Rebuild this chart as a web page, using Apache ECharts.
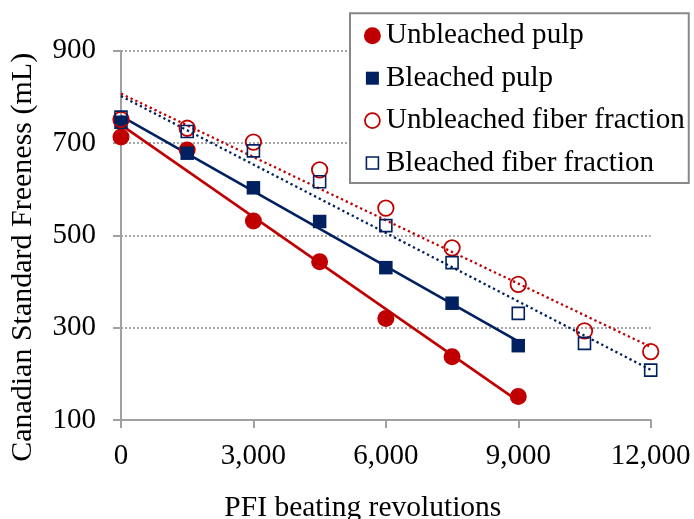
<!DOCTYPE html>
<html>
<head>
<meta charset="utf-8">
<script src="https://cdn.jsdelivr.net/npm/echarts@6/dist/echarts.min.js"></script>
<style>
html,body{margin:0;padding:0;background:#fff;}
#chart{width:694px;height:519px;}
</style>
</head>
<body>
<div id="chart"></div>
<script>
// ---- Data ----
const seriesNames = ['Unbleached pulp', 'Bleached pulp', 'Unbleached fiber fraction', 'Bleached fiber fraction'];
const pulpRevolutions = [0, 1500, 3000, 4500, 6000, 7500, 9000];
const fiberRevolutions = [0, 1500, 3000, 4500, 6000, 7500, 9000, 10500, 12000];
const unbleachedPulp = [713, 685, 531, 443, 320, 237, 151];
const bleachedPulp = [745, 678, 603, 530, 430, 353, 261];
const unbleachedFiber = [751, 732, 702, 642, 559, 473, 394, 293, 248];
const bleachedFiber = [756, 725, 683, 616, 521, 441, 331, 266, 208];
const xTicks = [0, 3000, 6000, 9000, 12000];
const yTicks = [100, 300, 500, 700, 900];

// ---- helpers ----
function pairs(xs, ys) { return xs.map((x, i) => [x, ys[i]]); }
// least-squares linear trendline (as the spreadsheet's trendline does)
function trend(xs, ys) {
  const n = xs.length;
  const mx = xs.reduce((a, b) => a + b, 0) / n;
  const my = ys.reduce((a, b) => a + b, 0) / n;
  let sxy = 0, sxx = 0;
  for (let i = 0; i < n; i++) { sxy += (xs[i] - mx) * (ys[i] - my); sxx += (xs[i] - mx) * (xs[i] - mx); }
  const b = sxy / sxx, a = my - b * mx;
  const x0 = Math.min(...xs), x1 = Math.max(...xs);
  return [[x0, a + b * x0], [x1, a + b * x1]];
}

const RED = '#C00000';
const NAVY = '#002060';
const GRAY = '#A0A0A0';
const FONT = "'Liberation Serif', 'Times New Roman', serif";
const FS = 29;
const FS_T = 29.5;
const FS_L = 29.1;

const chart = echarts.init(document.getElementById('chart'), null, {renderer: 'canvas'});

const sqIcon = 'path://M0,0M17,17M2,2H15V15H2Z';
const hollowSqIcon = 'path://M0,0M17,17M2.5,2.5H14.5V14.5H2.5Z';
const hollowCircIcon = 'path://M0,0M17,17M1,8.5A7.5,7.5,0,1,1,16,8.5A7.5,7.5,0,1,1,1,8.5Z';

const option = {
  animation: false,
  backgroundColor: '#ffffff',
  textStyle: {fontFamily: FONT},
  grid: {left: 121, right: 43.3, top: 50.7, bottom: 99, containLabel: false, outerBoundsMode: 'none'},
  legend: {
    orient: 'vertical',
    left: 350, top: 13.3,
    padding: [7.5, 4, 5, 13],
    itemWidth: 17, itemHeight: 17,
    itemGap: 12.4,
    borderColor: '#888888', borderWidth: 2,
    backgroundColor: '#ffffff',
    selectedMode: false,
    textStyle: {fontFamily: FONT, fontSize: FS_L, color: '#000', lineHeight: 30},
    data: [
      {name: seriesNames[0], icon: 'circle', itemStyle: {color: RED, borderWidth: 0}},
      {name: seriesNames[1], icon: sqIcon, itemStyle: {color: NAVY, borderWidth: 0}},
      {name: seriesNames[2], icon: hollowCircIcon, itemStyle: {color: 'rgba(0,0,0,0)', borderColor: RED, borderWidth: 1.8}},
      {name: seriesNames[3], icon: hollowSqIcon, itemStyle: {color: 'rgba(0,0,0,0)', borderColor: NAVY, borderWidth: 1.6}}
    ]
  },
  xAxis: {
    type: 'value', min: xTicks[0], max: xTicks[xTicks.length - 1], interval: xTicks[1] - xTicks[0],
    name: 'PFI beating revolutions', nameLocation: 'middle', nameGap: 73,
    nameTextStyle: {fontFamily: FONT, fontSize: FS_T, color: '#000', padding: [0, 46, 0, 0]},
    axisLine: {show: true, onZero: false, lineStyle: {color: GRAY, width: 2}},
    axisTick: {show: true, length: 8, lineStyle: {color: GRAY, width: 2}},
    axisLabel: {fontFamily: FONT, fontSize: FS, color: '#000', margin: 22,
      formatter: v => v.toLocaleString('en-US')},
    splitLine: {show: false}
  },
  yAxis: {
    type: 'value', min: yTicks[0], max: yTicks[yTicks.length - 1], interval: yTicks[1] - yTicks[0],
    name: 'Canadian Standard Freeness (mL)', nameLocation: 'middle', nameGap: 83,
    nameTextStyle: {fontFamily: FONT, fontSize: 30, color: '#000', padding: [0, 44, 0, 0]},
    axisLine: {show: true, lineStyle: {color: GRAY, width: 2}},
    axisTick: {show: true, length: 8, lineStyle: {color: GRAY, width: 2}},
    axisLabel: {fontFamily: FONT, fontSize: FS, color: '#000', margin: 25},
    splitLine: {show: true, lineStyle: {color: '#A6A6A6', width: 2, type: [2, 2]}}
  },
  series: [
    // trendlines
    {type: 'line', name: seriesNames[0] + ' trend', data: trend(pulpRevolutions, unbleachedPulp), symbol: 'none', z: 2,
      lineStyle: {color: RED, width: 2.6}},
    {type: 'line', name: seriesNames[1] + ' trend', data: trend(pulpRevolutions, bleachedPulp), symbol: 'none', z: 2,
      lineStyle: {color: NAVY, width: 2.6}},
    {type: 'line', name: seriesNames[2] + ' trend', data: trend(fiberRevolutions, unbleachedFiber), symbol: 'none', z: 2,
      lineStyle: {color: RED, width: 2.3, type: [2.3, 3]}},
    {type: 'line', name: seriesNames[3] + ' trend', data: trend(fiberRevolutions, bleachedFiber), symbol: 'none', z: 2,
      lineStyle: {color: NAVY, width: 2.3, type: [2.3, 3]}},
    // markers
    {type: 'scatter', name: seriesNames[0], data: pairs(pulpRevolutions, unbleachedPulp), symbol: 'circle', symbolSize: 17, z: 3,
      itemStyle: {color: RED, opacity: 1}},
    {type: 'scatter', name: seriesNames[1], data: pairs(pulpRevolutions, bleachedPulp), symbol: 'rect', symbolSize: 13.5, z: 3,
      itemStyle: {color: NAVY, opacity: 1}},
    {type: 'scatter', name: seriesNames[2], data: pairs(fiberRevolutions, unbleachedFiber), symbol: 'circle', symbolSize: 15.5, z: 3,
      itemStyle: {color: 'rgba(0,0,0,0)', borderColor: RED, borderWidth: 1.8, opacity: 1}},
    {type: 'scatter', name: seriesNames[3], data: pairs(fiberRevolutions, bleachedFiber), symbol: 'rect', symbolSize: 12, z: 3,
      itemStyle: {color: 'rgba(0,0,0,0)', borderColor: NAVY, borderWidth: 1.6, opacity: 1}}
  ]
};
chart.setOption(option);
</script>
</body>
</html>
